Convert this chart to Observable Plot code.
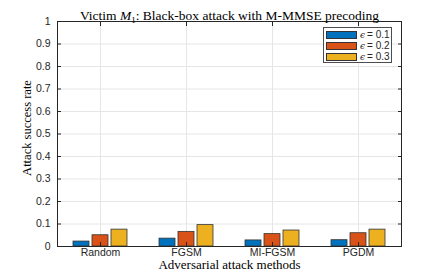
<!DOCTYPE html>
<html><head><meta charset="utf-8">
<script src="https://cdn.jsdelivr.net/npm/d3@7"></script>
<script src="https://cdn.jsdelivr.net/npm/@observablehq/plot@0.6"></script>
<style>
body{margin:0;background:#fff;}
#wrap{position:relative;width:443px;height:277px;}
#legend{position:absolute;left:323px;top:27px;width:67px;height:34px;border:1px solid #4d4d4d;background:#fff;font:10px "Liberation Sans",sans-serif;color:#262626;}
.row{position:absolute;left:2px;height:9px;display:flex;align-items:center;}
.sw{width:31px;height:8px;border:1px solid #333;box-sizing:border-box;margin-right:3px;}
.ep{font-family:"DejaVu Serif",serif;font-style:italic;font-size:9px;margin-right:2px;}
</style></head>
<body><div id="wrap"><div id="legend"></div></div>
<script>
const methods = ["Random","FGSM","MI-FGSM","PGDM"];
const epsValues = ["0.1","0.2","0.3"];
const eps01 = [0.022,0.035,0.027,0.028];
const eps02 = [0.050,0.065,0.055,0.059];
const eps03 = [0.075,0.095,0.071,0.075];
const colors = ["#0072BD","#D95319","#EDB120"];
const yTicks = [0,0.1,0.2,0.3,0.4,0.5,0.6,0.7,0.8,0.9,1];

const series = [eps01,eps02,eps03];
const offsets = [-19,0,19];
const bars = series.map((vals,i)=>Plot.barY(methods.map((m,j)=>({method:m,value:vals[j]})),
  {x:"method",y:"value",fill:colors[i],stroke:"#333",strokeWidth:0.8,dx:offsets[i],insetLeft:35,insetRight:35}));

const chart = Plot.plot({
  width:443,height:277,
  marginLeft:57,marginRight:42,marginTop:21,marginBottom:31,
  style:{fontFamily:"Liberation Sans, sans-serif",fontSize:"10px",color:"#262626",background:"#fff"},
  x:{domain:methods,padding:0},
  y:{domain:[0,1],ticks:yTicks},
  marks:[
    Plot.gridY(yTicks,{stroke:"#e6e6e6",strokeOpacity:1}),
    Plot.gridX(methods,{stroke:"#e6e6e6",strokeOpacity:1}),
    ...bars,
    Plot.axisY(yTicks,{anchor:"left",tickSize:-4,tickPadding:11,stroke:"#262626",tickFormat:d=>String(d),fontSize:10.5,label:null}),
    Plot.axisY(yTicks,{anchor:"right",tickSize:-4,tickFormat:()=>"",label:null,stroke:"#262626"}),
    Plot.axisX(methods,{anchor:"bottom",tickSize:-4,tickPadding:6,stroke:"#262626",fontSize:10.5,label:null}),
    Plot.axisX(methods,{anchor:"top",tickSize:-4,tickFormat:()=>"",label:null,stroke:"#262626"}),
    Plot.frame({stroke:"#262626",strokeWidth:1}),
    Plot.text(["TITLE"],{frameAnchor:"top",dy:-11,fontFamily:"Liberation Serif, serif",fontSize:13.5,fill:"#000",text:d=>d,className:"ttl"}),
    Plot.text(["Adversarial attack methods"],{frameAnchor:"bottom",dy:22,fontFamily:"Liberation Serif, serif",fontSize:13,fill:"#000",text:d=>d}),
    Plot.text(["Attack success rate"],{frameAnchor:"left",dx:-31,dy:-6,rotate:-90,textAnchor:"middle",fontFamily:"Liberation Serif, serif",fontSize:12.5,fill:"#000",text:d=>d})
  ]
});
document.getElementById("wrap").prepend(chart);
// title with italic M and subscript
const t = chart.querySelector(".ttl text");
if (t) {
  t.textContent = "";
  const ns = "http://www.w3.org/2000/svg";
  const parts = [["Victim ",{}],["M",{"font-style":"italic"}],["1",{"font-size":"9","dy":"2.5"}],[": Black-box attack with M-MMSE precoding",{"dy":"-2.5"}]];
  parts.forEach(([s,a])=>{const ts=document.createElementNS(ns,"tspan");ts.textContent=s;for(const k in a)ts.setAttribute(k,a[k]);t.appendChild(ts);});
}
const lg = document.getElementById("legend");
epsValues.forEach((v,i)=>{
  const r=document.createElement("div");r.className="row";r.style.top=(2+i*11)+"px";
  r.innerHTML=`<div class="sw" style="background:${colors[i]}"></div><span class="ep">ϵ</span><span>= ${v}</span>`;
  lg.appendChild(r);
});
</script></body></html>
